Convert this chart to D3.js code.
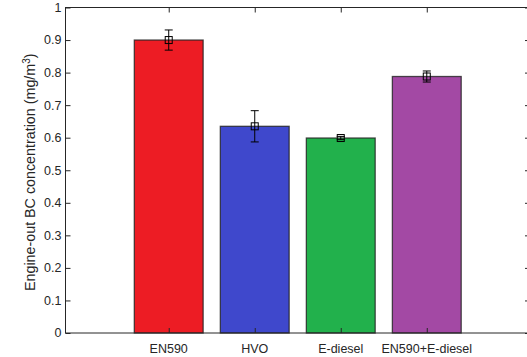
<!DOCTYPE html>
<html>
<head>
<meta charset="utf-8">
<script src="https://cdn.jsdelivr.net/npm/d3@7"></script>
<style>
  body { margin: 0; background: #fff; }
  text { font-family: "Liberation Sans", Arial, sans-serif; fill: #262626; }
</style>
</head>
<body>
<div id="chart"></div>
<script>
// values
const categories = ["EN590", "HVO", "E-diesel", "EN590+E-diesel"];
const means = [0.900, 0.635, 0.599, 0.788];
const errors = [0.031, 0.048, 0.005, 0.017];
const barColors = ["#ED1C24", "#3F48CC", "#22B14C", "#A349A4"];
const yTicks = [0, 0.1, 0.2, 0.3, 0.4, 0.5, 0.6, 0.7, 0.8, 0.9, 1];
const yTickLabels = ["0", "0.1", "0.2", "0.3", "0.4", "0.5", "0.6", "0.7", "0.8", "0.9", "1"];

const W = 527, H = 357;
const plot = {left: 65.5, right: 530, top: 7.5, bottom: 333};

const svg = d3.select("#chart").append("svg")
    .attr("width", W)
    .attr("height", H);

const x = d3.scaleLinear().domain([-0.2, 5.2]).range([plot.left, plot.right]);
const y = d3.scaleLinear().domain([0, 1]).range([plot.bottom, plot.top]);
const barW = x(0.8) - x(0);

const data = categories.map((c, i) => ({name: c, pos: i + 1, mean: means[i], err: errors[i], color: barColors[i]}));

// bars
svg.append("g").selectAll("rect")
    .data(data)
    .enter()
    .append("rect")
    .attr("x", d => x(d.pos) - barW / 2)
    .attr("y", d => y(d.mean))
    .attr("width", barW)
    .attr("height", d => y(0) - y(d.mean))
    .attr("fill", d => d.color)
    .attr("stroke", "#222")
    .attr("stroke-opacity", 0.8)
    .attr("stroke-width", 1.3);

// error bars
const eb = svg.append("g").attr("stroke", "#000").attr("stroke-width", 1).attr("fill", "none");
const cap = 4;
eb.selectAll(".stem").data(data).enter().append("line")
    .attr("x1", d => x(d.pos)).attr("x2", d => x(d.pos))
    .attr("y1", d => y(d.mean + d.err)).attr("y2", d => y(d.mean - d.err));
eb.selectAll(".capTop").data(data).enter().append("line")
    .attr("x1", d => x(d.pos) - cap).attr("x2", d => x(d.pos) + cap)
    .attr("y1", d => y(d.mean + d.err)).attr("y2", d => y(d.mean + d.err));
eb.selectAll(".capBot").data(data).enter().append("line")
    .attr("x1", d => x(d.pos) - cap).attr("x2", d => x(d.pos) + cap)
    .attr("y1", d => y(d.mean - d.err)).attr("y2", d => y(d.mean - d.err));
eb.selectAll(".marker").data(data).enter().append("rect")
    .attr("x", d => x(d.pos) - 3.5)
    .attr("y", d => y(d.mean) - 3.5)
    .attr("width", 7).attr("height", 7);

// axes box
const axisColor = "#262626";
const axes = svg.append("g");
axes.append("rect")
    .attr("x", plot.left).attr("y", plot.top)
    .attr("width", plot.right - plot.left).attr("height", plot.bottom - plot.top)
    .attr("fill", "none").attr("stroke", axisColor).attr("stroke-width", 1);

const tickLen = 5;
const yAxisL = d3.axisRight(y).tickValues(yTicks).tickSize(tickLen).tickFormat("");
axes.append("g").attr("transform", `translate(${plot.left},0)`).call(yAxisL)
    .call(g => g.select(".domain").remove());
const yAxisR = d3.axisLeft(y).tickValues(yTicks).tickSize(tickLen).tickFormat("");
axes.append("g").attr("transform", `translate(${plot.right},0)`).call(yAxisR)
    .call(g => g.select(".domain").remove());
const xAxisB = d3.axisTop(x).tickValues(data.map(d => d.pos)).tickSize(tickLen).tickFormat("");
axes.append("g").attr("transform", `translate(0,${plot.bottom})`).call(xAxisB)
    .call(g => g.select(".domain").remove());
const xAxisT = d3.axisBottom(x).tickValues(data.map(d => d.pos)).tickSize(tickLen).tickFormat("");
axes.append("g").attr("transform", `translate(0,${plot.top})`).call(xAxisT)
    .call(g => g.select(".domain").remove());
axes.selectAll(".tick line").attr("stroke", axisColor);

// tick labels
svg.append("g").selectAll("text")
    .data(yTicks)
    .enter()
    .append("text")
    .attr("x", plot.left - 4)
    .attr("y", d => y(d))
    .attr("dy", "0.35em")
    .attr("text-anchor", "end")
    .attr("font-size", 12.5)
    .text((d, i) => yTickLabels[i]);

svg.append("g").selectAll("text")
    .data(data)
    .enter()
    .append("text")
    .attr("x", d => x(d.pos))
    .attr("y", plot.bottom + 20)
    .attr("text-anchor", "middle")
    .attr("font-size", 12.5)
    .text(d => d.name);

// y label
const yl = svg.append("text")
    .attr("transform", `translate(35,${(plot.top + plot.bottom) / 2 + 2}) rotate(-90)`)
    .attr("text-anchor", "middle")
    .attr("font-size", 14.3);
yl.append("tspan").text("Engine-out BC concentration (mg/m");
yl.append("tspan").attr("dy", -5.5).attr("font-size", 10).text("3");
yl.append("tspan").attr("dy", 5.5).text(")");
</script>
</body>
</html>
